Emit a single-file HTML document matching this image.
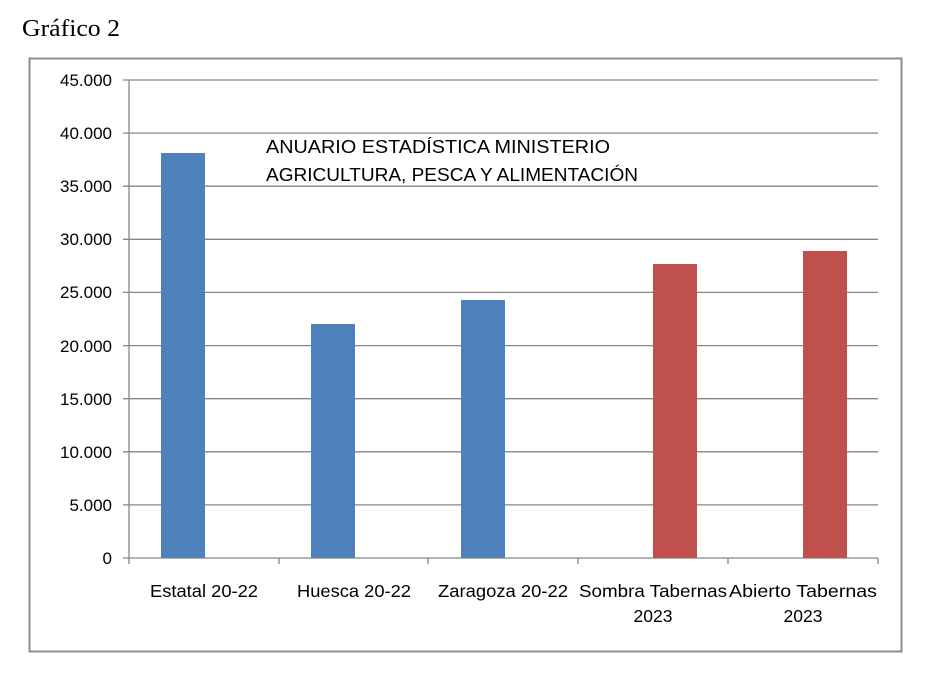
<!DOCTYPE html>
<html><head><meta charset="utf-8"><style>
body{margin:0;background:#fff;width:930px;height:679px;overflow:hidden}
</style></head><body>
<svg width="930" height="679" xmlns="http://www.w3.org/2000/svg" style="display:block">
<text x="22" y="36" font-family="Liberation Serif, serif" font-size="24" fill="#000" textLength="98" lengthAdjust="spacingAndGlyphs">Gráfico 2</text>
<rect x="29.5" y="58.5" width="872" height="593" fill="#fff" stroke="#8c8c8c" stroke-width="2"/>
<g stroke="#868686" stroke-width="1.3">
<line x1="123" y1="80" x2="878" y2="80"/>
<line x1="123" y1="133.1" x2="878" y2="133.1"/>
<line x1="123" y1="186.2" x2="878" y2="186.2"/>
<line x1="123" y1="239.3" x2="878" y2="239.3"/>
<line x1="123" y1="292.4" x2="878" y2="292.4"/>
<line x1="123" y1="345.6" x2="878" y2="345.6"/>
<line x1="123" y1="398.7" x2="878" y2="398.7"/>
<line x1="123" y1="451.8" x2="878" y2="451.8"/>
<line x1="123" y1="504.9" x2="878" y2="504.9"/>
<line x1="123" y1="558" x2="878" y2="558"/>
<line x1="129" y1="80" x2="129" y2="558"/>
<line x1="129" y1="558" x2="129" y2="564"/>
<line x1="279" y1="558" x2="279" y2="564"/>
<line x1="428" y1="558" x2="428" y2="564"/>
<line x1="578" y1="558" x2="578" y2="564"/>
<line x1="728" y1="558" x2="728" y2="564"/>
<line x1="878" y1="558" x2="878" y2="564"/>
</g>
<g fill="#4F81BD">
<rect x="161" y="153" width="44" height="405"/>
<rect x="311" y="324" width="44" height="234"/>
<rect x="461" y="300" width="44" height="258"/>
</g>
<g fill="#C0504D">
<rect x="653" y="264" width="44" height="294"/>
<rect x="803" y="251" width="44" height="307"/>
</g>
<g font-family="Liberation Sans, sans-serif" font-size="17" fill="#000" text-anchor="end">
<text x="112" y="86">45.000</text>
<text x="112" y="139">40.000</text>
<text x="112" y="192">35.000</text>
<text x="112" y="245">30.000</text>
<text x="112" y="298">25.000</text>
<text x="112" y="352">20.000</text>
<text x="112" y="405">15.000</text>
<text x="112" y="458">10.000</text>
<text x="112" y="511">5.000</text>
<text x="112" y="564">0</text>
</g>
<g font-family="Liberation Sans, sans-serif" font-size="17.5" fill="#000" text-anchor="middle" lengthAdjust="spacingAndGlyphs">
<text x="204" y="597" textLength="108" lengthAdjust="spacingAndGlyphs">Estatal 20-22</text>
<text x="354" y="597" textLength="114" lengthAdjust="spacingAndGlyphs">Huesca 20-22</text>
<text x="503" y="597" textLength="130" lengthAdjust="spacingAndGlyphs">Zaragoza 20-22</text>
<text x="653" y="597" textLength="148" lengthAdjust="spacingAndGlyphs">Sombra Tabernas</text>
<text x="653" y="622">2023</text>
<text x="803" y="597" textLength="148" lengthAdjust="spacingAndGlyphs">Abierto Tabernas</text>
<text x="803" y="622">2023</text>
</g>
<g font-family="Liberation Sans, sans-serif" font-size="18.5" fill="#000">
<text x="266" y="153" textLength="344" lengthAdjust="spacingAndGlyphs">ANUARIO ESTADÍSTICA MINISTERIO</text>
<text x="266" y="181" textLength="372" lengthAdjust="spacingAndGlyphs">AGRICULTURA, PESCA Y ALIMENTACIÓN</text>
</g>
</svg>
</body></html>
